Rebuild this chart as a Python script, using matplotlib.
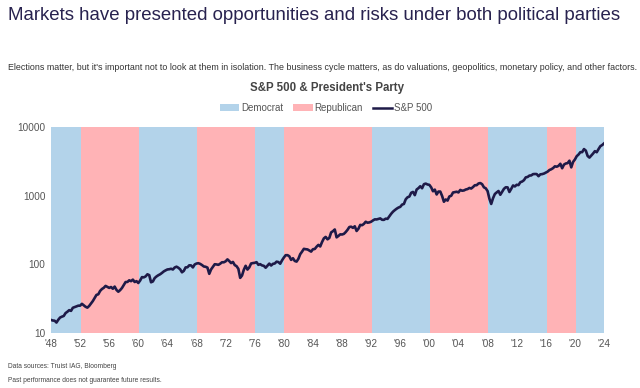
import numpy as np
import pandas as pd
import matplotlib
matplotlib.use('Agg')
import matplotlib.pyplot as plt
from matplotlib.patches import Patch
from matplotlib.lines import Line2D

plt.rcParams['font.family'] = ['Liberation Sans', 'DejaVu Sans']

# ── 데이터: S&P 500 분기말 종가 (1948 Q3 ~ 2024 Q3, 그림에서 읽음)
SP500 = [
    15.5, 15.2,
    15.1, 14.2, 15.6, 16.8,
    17.3, 17.7, 19.5, 20.4,
    21.5, 21.0, 23.3, 23.8,
    24.4, 25.0, 25.0, 26.6,
    25.3, 24.1, 23.4, 24.8,
    26.9, 29.2, 32.3, 35.9,
    36.6, 41.0, 43.7, 45.5,
    48.5, 46.9, 45.4, 46.7,
    44.1, 47.4, 42.4, 39.9,
    42.1, 45.2, 50.1, 55.2,
    55.4, 58.5, 56.9, 59.9,
    55.3, 56.9, 53.5, 58.1,
    65.1, 64.6, 66.7, 71.6,
    69.6, 54.8, 56.3, 63.1,
    66.6, 69.4, 71.7, 75.0,
    78.9, 81.7, 84.2, 84.8,
    86.2, 84.1, 89.9, 92.4,
    89.2, 84.7, 76.6, 80.3,
    90.2, 90.6, 96.7, 96.5,
    90.2, 99.6, 102.7, 103.9,
    101.5, 97.7, 93.1, 92.1,
    89.6, 72.7, 84.3, 92.2,
    100.3, 99.7, 98.3, 102.1,
    107.2, 107.1, 110.6, 118.1,
    111.5, 104.3, 108.4, 97.6,
    94.0, 86.0, 63.5, 68.6,
    83.4, 95.2, 83.9, 90.2,
    102.8, 104.3, 105.2, 107.5,
    98.4, 100.5, 96.5, 95.1,
    89.2, 95.5, 102.5, 96.1,
    101.6, 102.9, 109.3, 107.9,
    102.1, 114.2, 125.5, 135.8,
    136.0, 131.2, 116.2, 122.6,
    112.0, 109.6, 120.4, 140.6,
    153.0, 168.1, 166.1, 164.9,
    159.2, 153.2, 166.1, 167.2,
    180.7, 191.9, 182.1, 211.3,
    238.9, 250.8, 231.3, 242.2,
    291.7, 304.0, 321.8, 247.1,
    258.9, 273.5, 271.9, 277.7,
    294.9, 318.0, 349.2, 353.4,
    339.9, 358.0, 306.1, 330.2,
    375.2, 371.2, 387.9, 417.1,
    403.7, 408.1, 417.8, 435.7,
    451.7, 450.5, 458.9, 466.5,
    445.8, 444.3, 462.7, 459.3,
    500.7, 544.8, 584.4, 615.9,
    645.5, 670.6, 687.3, 740.7,
    757.1, 885.1, 947.3, 970.4,
    1101.8, 1133.8, 1017.0, 1229.2,
    1286.4, 1372.7, 1282.7, 1469.3,
    1498.6, 1454.6, 1436.5, 1320.3,
    1160.3, 1224.4, 1040.9, 1148.1,
    1147.4, 989.8, 815.3, 879.8,
    848.2, 974.5, 996.0, 1111.9,
    1126.2, 1140.8, 1114.6, 1211.9,
    1180.6, 1191.3, 1228.8, 1248.3,
    1294.9, 1270.2, 1335.9, 1418.3,
    1420.9, 1503.4, 1526.8, 1468.4,
    1322.7, 1280.0, 1166.4, 903.3,
    757.0, 919.3, 1057.1, 1115.1,
    1169.4, 1030.7, 1141.2, 1257.6,
    1325.8, 1320.6, 1131.4, 1257.6,
    1408.5, 1362.2, 1440.7, 1426.2,
    1569.2, 1606.3, 1681.6, 1848.4,
    1872.3, 1960.2, 1972.3, 2058.9,
    2067.9, 2063.1, 1920.0, 2043.9,
    2059.7, 2098.9, 2168.3, 2238.8,
    2362.7, 2423.4, 2519.4, 2673.6,
    2640.9, 2718.4, 2914.0, 2506.9,
    2834.4, 2941.8, 2976.7, 3230.8,
    2584.6, 3100.3, 3363.0, 3756.1,
    3972.9, 4297.5, 4307.5, 4766.2,
    4530.4, 3785.4, 3585.6, 3839.5,
    4109.3, 4450.4, 4288.1, 4769.8,
    5254.4, 5460.5, 5762.5,
]
START_YEAR = 1948.75  # 1948년 9월 말

# 대통령 소속 정당 구간 (선거 시점 기준)
TERM_START = [1948.75, 1952.84, 1960.85, 1968.84, 1976.84, 1980.84,
              1992.84, 2000.85, 2008.84, 2016.85, 2020.84]
TERM_END = TERM_START[1:] + [2024.75]
TERM_PARTY = ['D', 'R', 'D', 'R', 'D', 'R', 'D', 'R', 'D', 'R', 'D']

TICK_LABELS = ["'48", "'52", "'56", "'60", "'64", "'68", "'72", "'76", "'80",
               "'84", "'88", "'92", "'96", "'00", "'04", "'08", "'12", "'16",
               "'20", "'24"]

COL = {'D': '#b3d3ea', 'R': '#ffb3b6'}
LINE = '#1e1a48'
NAVY = '#28224f'

t = START_YEAR + 0.25 * np.arange(len(SP500))

fig = plt.figure(figsize=(6.4, 3.88), dpi=100)
ax = fig.add_axes([51 / 640, 1 - 333 / 388, 553 / 640, 206 / 388])

for s, e, p in zip(TERM_START, TERM_END, TERM_PARTY):
    ax.axvspan(s, e, color=COL[p], lw=0, zorder=0)
ax.plot(t, SP500, color=LINE, lw=1.9, zorder=3)

ax.set_yscale('log')
ax.set_ylim(10, 10000)
ax.set_xlim(START_YEAR, 2024.75)
ax.set_yticks([10, 100, 1000, 10000])
ax.set_yticklabels(['10', '100', '1000', '10000'])
ax.minorticks_off()
ax.set_xticks(START_YEAR + 4 * np.arange(len(TICK_LABELS)))
ax.set_xticklabels(TICK_LABELS)
ax.tick_params(length=0, labelsize=7.2, colors='#555555', pad=4)
for sp in ax.spines.values():
    sp.set_visible(False)

# ── 텍스트
fig.text(8 / 640, 1 - 16 / 388, 'Markets have presented opportunities and risks under both political parties',
         fontsize=13.45, color=NAVY, va='center', ha='left')
fig.text(8 / 640, 1 - 67 / 388,
         "Elections matter, but it's important not to look at them in isolation. The business cycle matters, "
         "as do valuations, geopolitics, monetary policy, and other factors.",
         fontsize=6.38, color='#333333', va='center', ha='left')
fig.text(327 / 640, 1 - 88 / 388, "S&P 500 & President's Party", fontsize=8.3,
         fontweight='bold', color='#444444', va='center', ha='center')

handles = [Patch(facecolor=COL['D'], edgecolor='none', label='Democrat'),
           Patch(facecolor=COL['R'], edgecolor='none', label='Republican'),
           Line2D([0], [0], color=LINE, lw=1.8, label='S&P 500')]
fig.legend(handles=handles, loc='center', bbox_to_anchor=(326 / 640, 1 - 108 / 388),
           ncol=3, frameon=False, fontsize=7, handlelength=2.0, handleheight=0.6,
           handletextpad=0.2, columnspacing=1.0, labelcolor='#555555')

fig.text(8 / 640, 1 - 366 / 388, 'Data sources: Truist IAG, Bloomberg',
         fontsize=4.8, color='#444444', va='center', ha='left')
fig.text(8 / 640, 1 - 380 / 388, 'Past performance does not guarantee future results.',
         fontsize=4.8, color='#444444', va='center', ha='left')

fig.savefig('out.png', dpi=100)
